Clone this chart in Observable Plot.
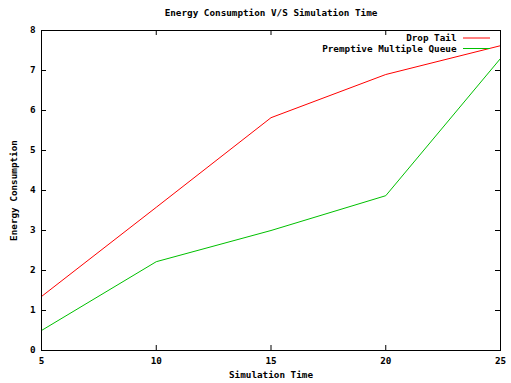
<!DOCTYPE html>
<html>
<head>
<meta charset="utf-8">
<script src="https://cdn.jsdelivr.net/npm/d3@7"></script>
<script src="https://cdn.jsdelivr.net/npm/@observablehq/plot@0.6"></script>
<style>
  html, body { margin: 0; padding: 0; background: #fff; }
  svg { display: block; }
</style>
</head>
<body>
<div id="chart"></div>
<script>
const simTime = [5, 10, 15, 20, 25];
const dropTail = [1.35, 3.58, 5.82, 6.9, 7.62];
const pmq = [0.5, 2.22, 3.0, 3.87, 7.3];
const seriesNames = ["Drop Tail", "Premptive Multiple Queue"];
const seriesColors = ["#ff0000", "#00c000"];
const xTicks = [5, 10, 15, 20, 25];
const yTicks = [0, 1, 2, 3, 4, 5, 6, 7, 8];
const title = "Energy Consumption V/S Simulation Time";
const xLabel = "Simulation Time";
const yLabel = "Energy Consumption";

const rows = [];
simTime.forEach((t, i) => {
  rows.push({t, v: dropTail[i], s: seriesNames[0]});
});
simTime.forEach((t, i) => {
  rows.push({t, v: pmq[i], s: seriesNames[1]});
});

const W = 511, H = 383;
const mL = 41, mR = 11, mT = 30, mB = 33;
const pw = W - mL - mR, ph = H - mT - mB;
const font = "'DejaVu Sans Mono', monospace";
const fs = 9.3;

const chart = Plot.plot({
  width: W,
  height: H,
  marginLeft: mL,
  marginRight: mR,
  marginTop: mT,
  marginBottom: mB,
  style: {fontFamily: font, fontSize: fs + "px", fontWeight: "bold", background: "#fff", color: "#000"},
  x: {domain: [5, 25], ticks: xTicks},
  y: {domain: [0, 8], ticks: yTicks},
  color: {domain: seriesNames, range: seriesColors},
  marks: [
    Plot.axisX(xTicks, {tickSize: 0, tickPadding: 7, label: null, tickFormat: d => String(d), fontWeight: "bold"}),
    Plot.axisY(yTicks, {tickSize: 0, tickPadding: 6, label: null, tickFormat: d => String(d), fontWeight: "bold"}),
    Plot.tickX(xTicks, {x: d => d, insetTop: ph - 5, stroke: "#000"}),
    Plot.tickX(xTicks, {x: d => d, insetBottom: ph - 5, stroke: "#000"}),
    Plot.tickY(yTicks, {y: d => d, insetRight: pw - 5, stroke: "#000"}),
    Plot.tickY(yTicks, {y: d => d, insetLeft: pw - 5, stroke: "#000"}),
    Plot.line(rows, {x: "t", y: "v", z: "s", stroke: "s", strokeWidth: 1}),
    Plot.frame({stroke: "#000", strokeWidth: 1}),
    Plot.text([title], {text: d => d, frameAnchor: "top", dy: -17, lineAnchor: "middle", fontWeight: "bold"}),
    Plot.text([xLabel], {text: d => d, frameAnchor: "bottom", dy: 24.5, lineAnchor: "middle", fontWeight: "bold"}),
    Plot.text([yLabel], {text: d => d, frameAnchor: "left", dx: -27.5, rotate: -90, textAnchor: "middle", lineAnchor: "middle", fontWeight: "bold"}),
    Plot.text([seriesNames[0]], {text: d => d, frameAnchor: "top-right", dx: -44, dy: 8, textAnchor: "end", lineAnchor: "middle", fontWeight: "bold"}),
    Plot.text([seriesNames[1]], {text: d => d, frameAnchor: "top-right", dx: -44, dy: 18.5, textAnchor: "end", lineAnchor: "middle", fontWeight: "bold"})
  ]
});

// legend sample lines
const svg = d3.select(chart);
const lg = svg.append("g");
seriesNames.forEach((name, i) => {
  const yy = mT + 8 + i * 10.5;
  lg.append("line")
    .attr("x1", W - mR - 37).attr("x2", W - mR - 10)
    .attr("y1", yy).attr("y2", yy)
    .attr("stroke", seriesColors[i]).attr("stroke-width", 1);
});

document.getElementById("chart").appendChild(chart);
</script>
</body>
</html>
